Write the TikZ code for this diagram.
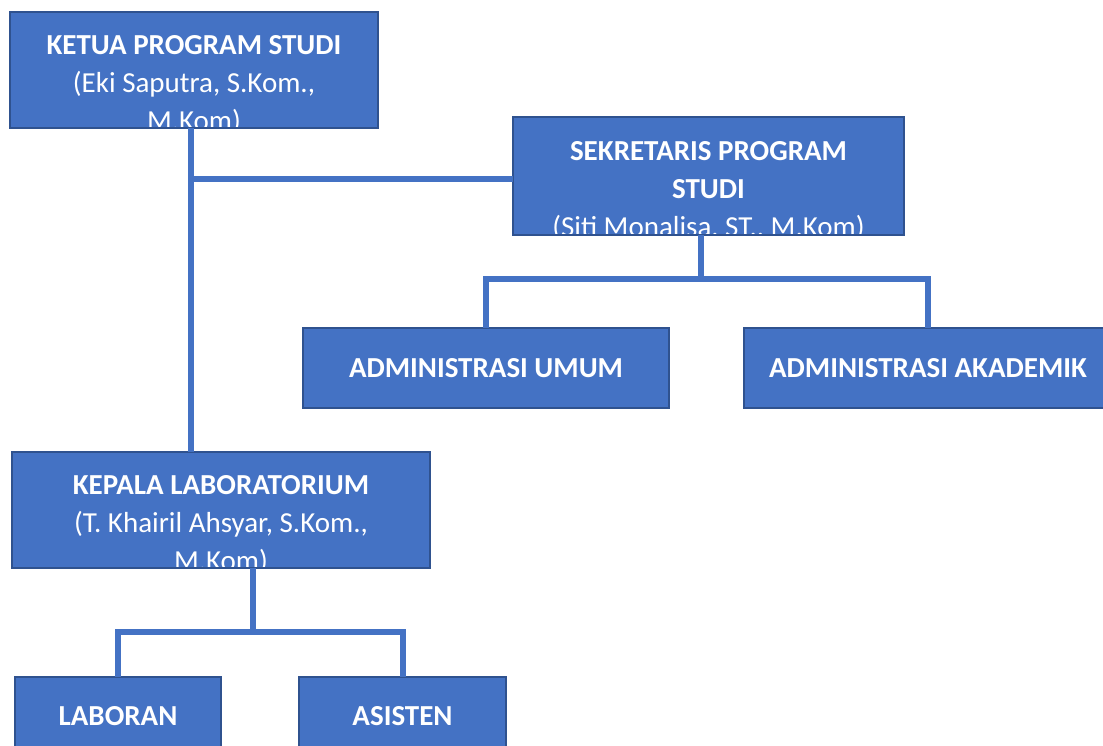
\documentclass[tikz,border=0pt]{standalone}
\usepackage{fontspec}
\setmainfont{Carlito}
\usetikzlibrary{positioning}
\definecolor{boxblue}{HTML}{4472C4}
\definecolor{boxedge}{HTML}{2F528F}
\tikzset{
	unit/.style={draw=boxedge, line width=2pt, fill=boxblue, text=white, inner sep=0pt, outer sep=0pt, font=\bfseries\fontsize{29}{38}\selectfont},
	clipped/.style 2 args={path picture={\node(#1) [text=white, align=center, anchor=north, inner sep=0pt, font=\fontsize{29}{38}\selectfont] at ([yshift=-15pt]path picture bounding box.north) {#2};}},
	link/.style={draw=boxblue, line width=6pt}
}
\begin{document}
\begin{tikzpicture}[x=1pt, y=1pt]
		\useasboundingbox (0,0) rectangle (1103,745);
		\clip (0,0) rectangle (1103,745);

		\node(ketua) [unit, minimum width=368pt, minimum height=116pt, clipped={ketuatxt}{\textbf{KETUA PROGRAM STUDI}\\(Eki Saputra, S.Kom.,\\M.Kom)}] at (194,675) {};
		\node(sek) [unit, minimum width=391pt, minimum height=118pt, clipped={sektxt}{\textbf{SEKRETARIS PROGRAM}\\\textbf{STUDI}\\(Siti Monalisa, ST., M.Kom)}] at (708.5,569) {};
		\node(umum) [unit, minimum width=366pt, minimum height=80pt] at (486,377) {ADMINISTRASI UMUM};
		\node(akad) [unit, minimum width=368pt, minimum height=80pt] at (928,377) {ADMINISTRASI AKADEMIK};
		\node(kalab) [unit, minimum width=418pt, minimum height=116pt, clipped={kalabtxt}{\textbf{KEPALA LABORATORIUM}\\(T. Khairil Ahsyar, S.Kom.,\\M.Kom)}] at (221,235) {};
		\node(laboran) [unit, minimum width=206pt, minimum height=78pt] at (118,29) {LABORAN};
		\node(asisten) [unit, minimum width=207pt, minimum height=78pt] at (402.5,29) {ASISTEN};

		\coordinate(j1) at (191,566);
		\coordinate(j2) at (701,466);
		\coordinate(j3) at (253,113);

		\draw[link] (ketua.south -| j1) -- (kalab.north -| j1);
		\draw[link] (j1) -- (sek.west |- j1);
		\draw[link] (sek.south -| j2) -- (j2);
		\draw[link] (umum.north) -- (umum.north |- j2) -- (akad.north |- j2) -- (akad.north);
		\draw[link] (kalab.south -| j3) -- (j3);
		\draw[link] (laboran.north) -- (laboran.north |- j3) -- (asisten.north |- j3) -- (asisten.north);
\end{tikzpicture}
\end{document}
